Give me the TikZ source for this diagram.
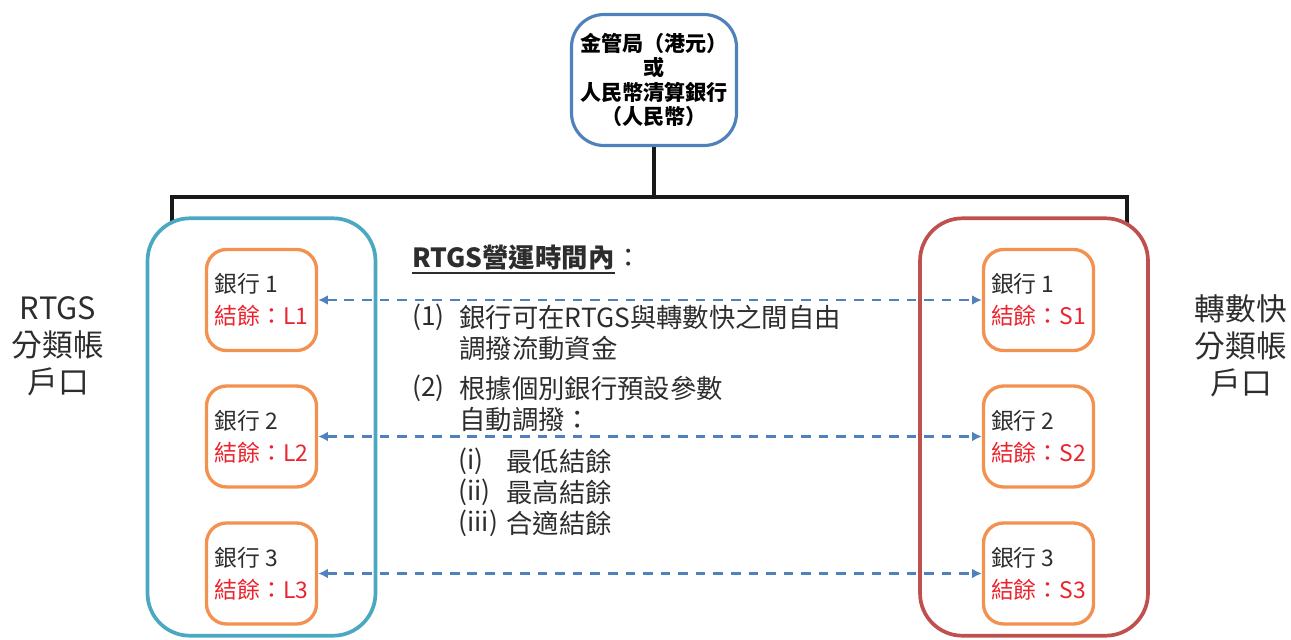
\documentclass[tikz,border=0pt]{standalone}
\usepackage{fontspec}
\setmainfont{Noto Sans CJK TC}
\usetikzlibrary{arrows.meta,positioning}

\definecolor{hkmablue}{RGB}{79,129,189}
\definecolor{rtgsteal}{RGB}{75,168,193}
\definecolor{fpsred}{RGB}{192,80,77}
\definecolor{bankorange}{RGB}{243,145,80}
\definecolor{balred}{RGB}{235,35,45}
\definecolor{ink}{RGB}{45,45,45}

\begin{document}
\begin{tikzpicture}[x=0.02cm, y=-0.02cm,
  hub/.style={draw=hkmablue, line width=1.8pt, rounded corners=0.65cm, minimum width=3.3cm, minimum height=2.62cm, align=center, font=\bfseries\fontsize{12}{14}\selectfont},
  ledger/.style={line width=2.1pt, rounded corners=0.85cm, minimum width=4.56cm, minimum height=8.35cm},
  bank/.style={draw=bankorange, line width=1.9pt, rounded corners=0.4cm, minimum width=2.2cm, minimum height=2.02cm, align=left, text=ink, font=\fontsize{13}{18}\selectfont},
  side/.style={align=center, text=ink, font=\fontsize{17.5}{21}\selectfont},
  note/.style={anchor=west, inner sep=0pt, text=ink, font=\fontsize{15}{18}\selectfont},
  bus/.style={line width=1.8pt, black!90},
  transfer/.style={hkmablue, line width=1.7pt, dash pattern=on 5.5pt off 4.5pt, {Latex[length=5.5pt,width=5.5pt]}-{Latex[length=5.5pt,width=5.5pt]}}]

\useasboundingbox (0,0) rectangle (1291,639);

%top box and the lines to both ledgers
\node[hub] (cb) at (654,80) {金管局（港元）\\或\\人民幣清算銀行\\（人民幣）};
\coordinate (busL) at (172,197);
\coordinate (busR) at (1127,197);
\coordinate (legL) at (172,222);
\coordinate (legR) at (1127,224);
\draw[bus] (cb.south) -- (cb.south |- busL);
\draw[bus] (legL) -- (busL) -- (busR) -- (legR);

%ledgers
\node[ledger, draw=rtgsteal] (rtgs) at (261.5,427) {};
\node[ledger, draw=fpsred] (fps) at (1034,427) {};
\node[side] (rtgslabel) at (58,346) {RTGS\\分類帳\\戶口};
\node[side] (fpslabel) at (1241,346) {轉數快\\分類帳\\戶口};

%bank accounts
\node[bank] (l1) at (261.5,300) {銀行 1\\\textcolor{balred}{結餘：L1}};
\node[bank] (l2) at (261.5,436.5) {銀行 2\\\textcolor{balred}{結餘：L2}};
\node[bank] (l3) at (261.5,573.5) {銀行 3\\\textcolor{balred}{結餘：L3}};
\node[bank] (s1) at (1038.5,300) {銀行 1\\\textcolor{balred}{結餘：S1}};
\node[bank] (s2) at (1038.5,436.5) {銀行 2\\\textcolor{balred}{結餘：S2}};
\node[bank] (s3) at (1038.5,573.5) {銀行 3\\\textcolor{balred}{結餘：S3}};

\draw[transfer] (l1.east) -- (s1.west);
\draw[transfer] (l2.east) -- (s2.west);
\draw[transfer] (l3.east) -- (s3.west);

%text in the middle
\node[note, font=\bfseries\fontsize{15}{18}\selectfont] (title) at (412,258) {RTGS營運時間內};
\node[note] (colon) at (title.east) {：};
\draw[ink, line width=1.2pt] ([yshift=-1pt]title.south west) -- ([yshift=-1pt]title.south east);

\node[note] (item1) at (412,317) {(1)};
\node[note] (item1a) at (459,317) {銀行可在RTGS與轉數快之間自由};
\node[note] (item1b) at (459,348) {調撥流動資金};
\node[note] (item2) at (412,388) {(2)};
\node[note] (item2a) at (459,388) {根據個別銀行預設參數};
\node[note] (item2b) at (459,420) {自動調撥：};
\node[note] (sub1) at (458,461) {(i)};
\node[note] (sub1a) at (506,461) {最低結餘};
\node[note] (sub2) at (458,492) {(ii)};
\node[note] (sub2a) at (506,492) {最高結餘};
\node[note] (sub3) at (458,523) {(iii)};
\node[note] (sub3a) at (506,523) {合適結餘};
\end{tikzpicture}
\end{document}
